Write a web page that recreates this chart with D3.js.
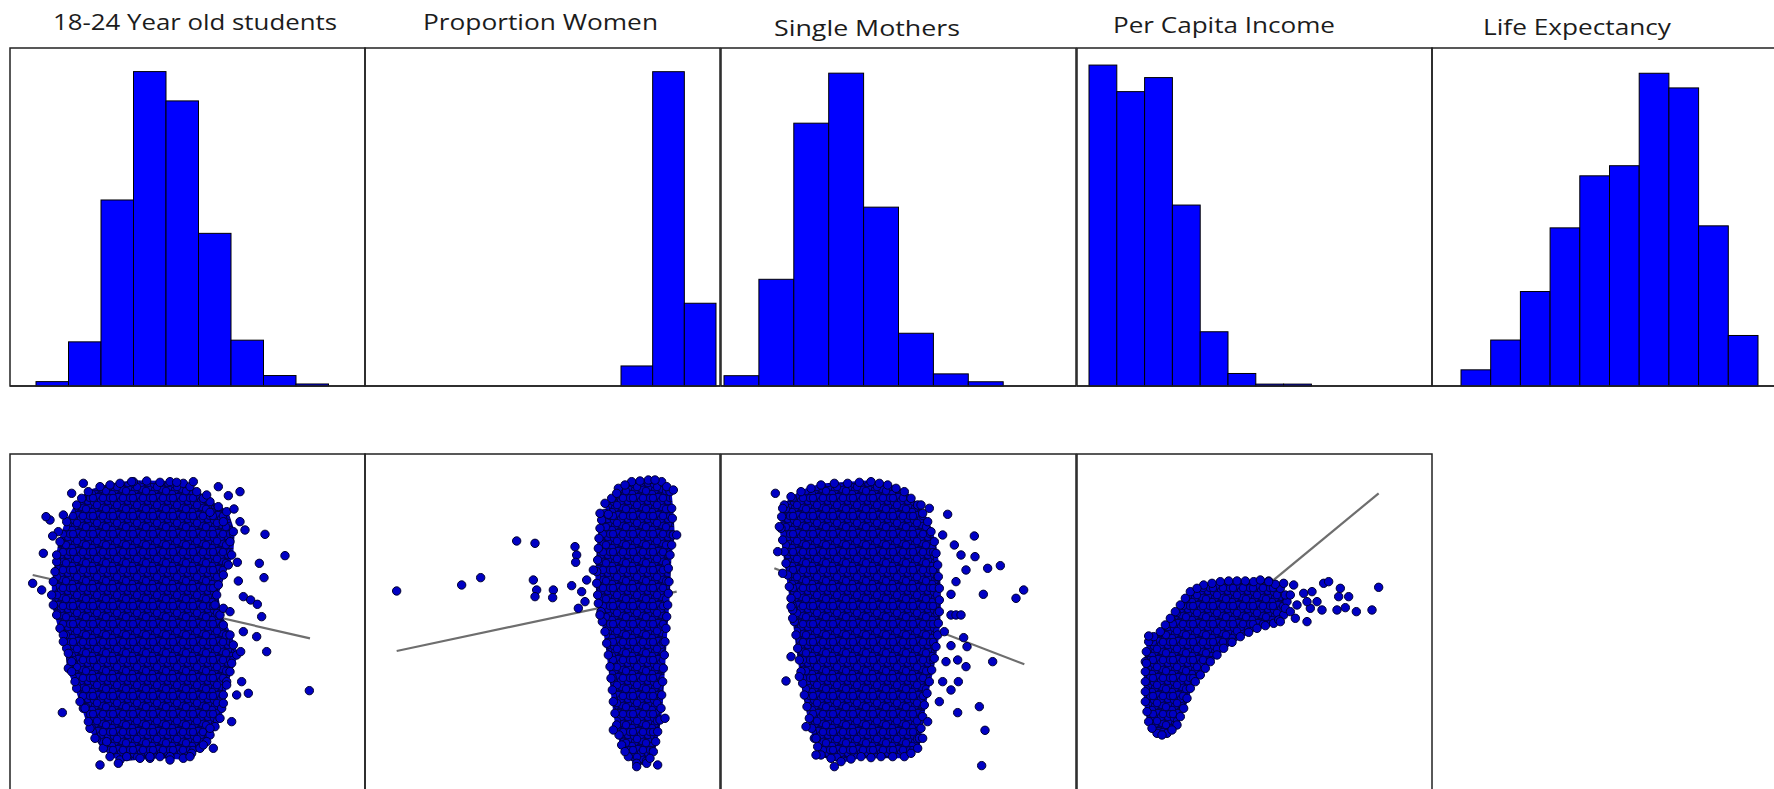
<!DOCTYPE html>
<html>
<head>
<meta charset="utf-8">
<script src="https://cdn.jsdelivr.net/npm/d3@7"></script>
<style>
  body { margin: 0; background: #fff; }
  svg { display: block; }
</style>
</head>
<body>
<svg id="chart" width="1774" height="789"></svg>
<script>
// panel titles
const titles = ["18-24 Year old students", "Proportion Women", "Single Mothers", "Per Capita Income", "Life Expectancy"];

// histogram bins (start of first bin and bin width, in each variable's units)
const binStart = [0.78, 7.68, 0.09, 0.36, 0.87];
const binWidth = [0.975, 0.95, 1.047, 0.834, 0.891];

// histogram counts per bin
const studentsCounts = [13, 131, 552, 933, 846, 453, 136, 31, 6];
const womenCounts = [149, 2336, 615];
const mothersCounts = [34, 352, 867, 1032, 590, 174, 40, 14];
const incomeCounts = [846, 776, 813, 477, 143, 33, 5, 5];
const lifeCounts = [32, 91, 187, 313, 416, 436, 619, 590, 317, 100];
const histMax = [1003, 2512, 1115, 891, 669];

// scatter plots vs life expectancy:
// outline of the dense cloud, points on its rim, single points, fitted line
const studentsCloud = [[2.35,8.90],[3.00,9.10],[3.70,9.20],[4.50,9.18],[5.20,9.15],[5.60,8.90],[6.00,8.60],[6.50,8.30],
  [6.70,7.70],[6.65,7.00],[6.40,6.40],[6.20,5.80],[6.30,5.20],[6.60,4.60],[6.80,4.00],[6.60,3.50],[6.40,2.80],
  [6.30,2.10],[6.00,1.60],[5.70,1.20],[5.20,0.90],[4.50,0.95],[3.90,0.90],[3.30,0.85],[2.80,1.20],[2.40,1.80],
  [2.20,2.40],[2.00,3.00],[1.75,3.60],[1.70,4.20],[1.50,4.80],[1.30,5.50],[1.30,6.20],[1.40,6.80],[1.50,7.40],
  [1.70,8.00],[2.00,8.50]];
const studentsEdge = [[2.70,9.05],[3.30,9.15],[4.10,9.22],[4.80,9.20],[5.40,9.05],[1.35,6.50],[1.25,5.80],[1.40,5.20],
  [1.60,4.60],[1.85,3.80],[1.95,3.20],[2.10,2.60],[2.35,2.00],[2.55,1.50],[3.00,0.95],[3.50,0.95],[6.40,8.00],
  [6.60,7.40],[6.55,6.70],[6.25,6.10],[6.15,5.50],[6.40,4.90],[6.70,4.30],[6.65,3.75],[6.50,3.20],[6.35,2.40],
  [6.15,1.85],[5.90,1.40],[5.45,1.05],[4.80,0.95],[4.20,0.90],[1.45,7.70],[1.60,8.20],[2.15,8.70],[5.80,8.70],
  [6.25,8.45]];
const studentsPoints = [[1.85,8.85],[2.20,9.15],[5.50,9.20],[6.25,9.05],[6.55,8.78],[6.90,8.90],[5.90,8.80],[6.00,8.28],
  [6.72,8.38],[6.90,8.00],[7.05,7.75],[7.65,7.62],[8.25,6.98],[7.48,6.75],[7.62,6.32],[1.20,8.05],[1.08,8.15],
  [1.28,7.57],[1.00,7.05],[0.68,6.15],[0.95,5.95],[6.82,6.78],[6.85,6.22],[7.00,5.75],[7.22,5.65],[7.42,5.52],
  [7.55,5.15],[7.40,4.55],[7.70,4.10],[6.92,4.10],[6.95,3.20],[7.15,2.85],[6.80,2.80],[6.65,2.00],[8.98,2.93],
  [1.57,2.27],[2.70,0.70],[3.25,0.75],[2.90,1.40],[6.10,1.20],[5.80,1.30],[5.00,9.18],[3.65,9.20],[1.40,7.00],
  [1.60,4.40],[1.75,4.05],[1.85,3.50],[2.25,2.40],[6.40,5.40],[6.60,5.30],[7.00,4.70],[6.50,3.10],[6.40,2.55],
  [6.00,1.80],[4.20,0.95],[4.80,0.85],[5.40,0.95]];
const studentsFit = [[0.68,6.40],[9.00,4.50]];

const womenCloud = [[7.40,8.70],[7.60,9.00],[8.00,9.20],[8.50,9.25],[8.90,9.20],[9.15,8.90],[9.20,8.40],[9.25,7.60],
  [9.15,7.00],[9.12,6.20],[9.08,5.50],[9.03,4.80],[8.98,4.00],[8.93,3.20],[8.88,2.40],[8.78,1.70],[8.65,1.10],
  [8.45,0.75],[8.15,0.75],[7.90,0.95],[7.70,1.30],[7.55,1.90],[7.45,2.60],[7.38,3.30],[7.30,4.00],[7.20,4.70],
  [7.08,5.30],[6.98,5.80],[6.95,6.50],[7.00,7.20],[7.05,7.80],[7.20,8.25]];
const womenEdge = [[7.20,8.55],[7.80,9.10],[8.25,9.22],[8.70,9.25],[9.05,9.05],[9.22,8.10],[9.20,7.30],[9.10,6.60],
  [9.10,5.85],[9.05,5.15],[9.00,4.40],[8.95,3.60],[8.90,2.80],[8.85,2.05],[8.72,1.40],[8.55,0.90],[7.80,1.10],
  [7.62,1.60],[7.50,2.25],[7.42,2.95],[7.35,3.65],[7.25,4.35],[7.12,5.00],[7.00,5.55],[6.95,6.15],[6.98,6.85],
  [7.02,7.50],[7.10,8.05]];
const womenPoints = [[0.95,5.92],[2.90,6.10],[3.47,6.32],[4.55,7.42],[5.10,7.35],[6.30,7.25],[6.35,7.00],[6.32,6.78],
  [5.05,6.25],[5.15,5.95],[5.10,5.75],[5.65,5.95],[5.63,5.72],[6.20,6.08],[6.40,5.40],[6.60,5.60],[6.65,6.25],
  [6.85,6.55],[7.05,8.25],[7.30,8.22],[7.55,8.85],[9.25,8.95],[9.35,7.60],[8.78,0.70],[8.15,0.65],[9.00,2.10],
  [7.45,1.75],[7.05,5.20],[6.50,5.90]];
const womenFit = [[0.95,4.12],[9.35,5.90]];

const mothersCloud = [[1.90,8.50],[2.40,8.90],[3.00,9.10],[3.80,9.15],[4.50,9.20],[5.00,9.10],[5.50,8.90],[5.90,8.50],
  [6.20,8.00],[6.40,7.40],[6.50,6.70],[6.55,6.00],[6.55,5.30],[6.50,4.60],[6.40,3.90],[6.25,3.20],[6.10,2.50],
  [6.00,1.80],[5.90,1.20],[5.50,0.95],[4.80,0.95],[4.20,0.95],[3.60,0.80],[3.00,1.00],[2.80,1.50],[2.65,2.10],
  [2.50,2.80],[2.40,3.50],[2.30,4.20],[2.20,5.00],[2.10,5.70],[2.00,6.40],[1.90,7.10],[1.80,7.80]];
const mothersEdge = [[2.10,8.75],[2.70,9.00],[3.40,9.15],[4.15,9.18],[4.75,9.15],[5.25,9.00],[5.70,8.70],[6.05,8.25],
  [6.30,7.70],[6.45,7.05],[6.52,6.35],[6.55,5.65],[6.52,4.95],[6.45,4.25],[6.32,3.55],[6.18,2.85],[6.05,2.15],
  [5.95,1.50],[5.70,1.05],[5.15,0.95],[4.50,0.92],[3.90,0.88],[3.30,0.90],[2.90,1.25],[2.72,1.80],[2.58,2.45],
  [2.45,3.15],[2.35,3.85],[2.25,4.60],[2.15,5.35],[2.05,6.05],[1.95,6.75],[1.85,7.45],[1.82,8.15]];
const mothersPoints = [[1.63,8.85],[1.85,8.40],[1.75,7.85],[1.70,7.10],[1.85,6.45],[2.10,5.45],[2.15,5.10],[2.10,3.95],
  [1.95,3.22],[2.35,3.35],[2.55,1.85],[2.85,1.50],[2.85,1.00],[3.40,0.65],[6.80,8.22],[6.00,8.50],[6.25,8.40],
  [6.65,7.60],[7.60,7.57],[7.00,7.30],[7.20,7.00],[7.62,6.95],[8.00,6.60],[8.38,6.68],[7.35,6.55],[7.05,6.20],
  [6.90,5.82],[7.87,5.82],[8.85,5.70],[9.08,5.95],[6.90,5.20],[7.05,5.20],[7.20,5.20],[6.70,4.70],[7.28,4.52],
  [6.90,4.28],[7.38,4.25],[6.75,3.80],[7.10,3.85],[7.35,3.65],[8.15,3.80],[6.65,3.20],[7.12,3.20],[6.90,2.95],
  [6.55,2.60],[7.10,2.27],[7.75,2.45],[7.92,1.74],[7.82,0.68],[6.20,2.00],[6.05,1.50]];
const mothersFit = [[1.60,6.60],[9.10,3.72]];

const incomeCloud = [[2.40,1.65],[2.15,2.00],[2.05,2.60],[2.05,3.20],[2.05,3.80],[2.15,4.40],[2.50,4.70],[2.80,5.10],
  [3.10,5.50],[3.40,5.90],[3.80,6.10],[4.30,6.20],[4.80,6.22],[5.30,6.20],[5.75,6.22],[6.10,6.00],[6.30,5.60],
  [6.20,5.20],[5.90,4.95],[5.40,4.80],[4.90,4.55],[4.40,4.20],[4.00,3.80],[3.70,3.40],[3.40,3.00],[3.20,2.40],
  [3.00,1.90],[2.70,1.65]];
const incomeEdge = [[2.25,1.80],[2.10,2.30],[2.05,2.90],[2.05,3.50],[2.08,4.10],[2.30,4.55],[2.65,4.90],[2.95,5.30],
  [3.25,5.70],[3.60,6.00],[4.05,6.15],[4.55,6.22],[5.05,6.22],[5.50,6.25],[5.95,6.12],[6.25,5.80],[6.25,5.40],
  [6.05,5.05],[5.65,4.88],[5.15,4.68],[4.65,4.38],[4.20,4.00],[3.85,3.60],[3.55,3.20],[3.30,2.70],[3.10,2.15],
  [2.85,1.75],[2.55,1.60]];
const incomePoints = [[2.15,4.57],[2.08,3.75],[5.75,6.20],[6.20,6.15],[6.50,6.10],[6.40,5.80],[6.80,5.85],[7.05,5.90],
  [7.40,6.15],[7.55,6.20],[7.90,6.00],[7.85,5.75],[8.15,5.75],[9.05,6.03],[6.60,5.50],[7.00,5.40],[7.35,5.35],
  [7.80,5.35],[8.05,5.42],[8.38,5.30],[8.85,5.35],[6.90,5.00],[6.55,5.10],[6.40,5.30],[6.10,5.00],[7.20,5.60],
  [6.90,5.60]];
const incomeFit = [[2.30,3.28],[9.05,8.85]];

const histCounts = [studentsCounts, womenCounts, mothersCounts, incomeCounts, lifeCounts];
const scatters = [
  { cloud: studentsCloud, edge: studentsEdge, points: studentsPoints, fit: studentsFit },
  { cloud: womenCloud, edge: womenEdge, points: womenPoints, fit: womenFit },
  { cloud: mothersCloud, edge: mothersEdge, points: mothersPoints, fit: mothersFit },
  { cloud: incomeCloud, edge: incomeEdge, points: incomePoints, fit: incomeFit }
];

// layout
const panelLeft = [10, 365, 721, 1077, 1432];
const panelW = 355;
const xUnits = 10.65;
const histTop = 48, histBottom = 386;
const scatTop = 455, scatBottom = 788.3;
const titlePos = [
  { x: 53, y: 30, len: 284 },
  { x: 423, y: 30, len: 235 },
  { x: 774, y: 35.5, len: 186 },
  { x: 1113, y: 32.5, len: 222 },
  { x: 1483, y: 34.5, len: 188 }
];
const dotR = 4.2;

const svg = d3.select("#chart");

// texture for the overplotted point clouds (irregular tile of overlapping dots)
const tileW = 20, tileH = 18;
const tileDots = [[2,3],[9,1],[15,4],[5,9],[12,8],[18,11],[1,15],[8,15],[14,16],[10,12],[17,1],[3,12],[6,5],[13,12]];
const pat = svg.append("defs").append("pattern")
  .attr("id", "dots")
  .attr("patternUnits", "userSpaceOnUse")
  .attr("width", tileW).attr("height", tileH);
pat.append("rect").attr("width", tileW).attr("height", tileH).attr("fill", "#000078");
tileDots.forEach(c => {
  [-1, 0, 1].forEach(ox => [-1, 0, 1].forEach(oy => {
    pat.append("circle")
      .attr("cx", c[0] + ox * tileW).attr("cy", c[1] + oy * tileH).attr("r", 3.8)
      .attr("fill", "#0000c4").attr("stroke", "#000038").attr("stroke-width", 0.9);
  }));
});

// titles
svg.selectAll("text.title")
  .data(titles)
  .enter()
  .append("text")
  .attr("class", "title")
  .attr("x", (d, i) => titlePos[i].x)
  .attr("y", (d, i) => titlePos[i].y)
  .attr("textLength", (d, i) => titlePos[i].len)
  .attr("lengthAdjust", "spacingAndGlyphs")
  .style("font-family", "'Open Sans', 'Noto Sans', sans-serif")
  .style("font-size", "22px")
  .style("fill", "#1c1c1c")
  .text(d => d);

// histograms
histCounts.forEach((counts, i) => {
  const left = panelLeft[i];
  const x = d3.scaleLinear().domain([0, xUnits]).range([left, left + panelW]);
  const y = d3.scaleLinear().domain([0, histMax[i]]).range([histBottom, histTop]);
  const g = svg.append("g");

  g.append("rect")
    .attr("x", left).attr("y", histTop)
    .attr("width", panelW).attr("height", histBottom - histTop)
    .attr("fill", "none").attr("stroke", "#222").attr("stroke-width", 1.5);

  g.selectAll("rect.bar")
    .data(counts)
    .enter()
    .append("rect")
    .attr("class", "bar")
    .attr("x", (d, j) => x(binStart[i] + j * binWidth[i]))
    .attr("width", x(binWidth[i]) - x(0))
    .attr("y", d => y(d))
    .attr("height", d => histBottom - y(d))
    .attr("fill", "#0000ff")
    .attr("stroke", "#000")
    .attr("stroke-width", 1);

  g.append("line")
    .attr("x1", left).attr("x2", left + panelW)
    .attr("y1", histBottom).attr("y2", histBottom)
    .attr("stroke", "#222").attr("stroke-width", 1.5);
});

// scatter plots
const yScatter = d3.scaleLinear().domain([0, 10]).range([scatBottom, scatTop]);

scatters.forEach((s, i) => {
  const left = panelLeft[i];
  const x = d3.scaleLinear().domain([0, xUnits]).range([left, left + panelW]);
  const g = svg.append("g");

  g.append("rect")
    .attr("x", left).attr("y", scatTop - 1)
    .attr("width", panelW).attr("height", 400)
    .attr("fill", "none").attr("stroke", "#222").attr("stroke-width", 1.5);

  g.append("path")
    .datum(s.fit)
    .attr("d", d3.line().x(d => x(d[0])).y(d => yScatter(d[1])))
    .attr("stroke", "#6e6e6e")
    .attr("stroke-width", 2.2)
    .attr("fill", "none");

  g.append("path")
    .datum(s.cloud)
    .attr("d", d3.line().x(d => x(d[0])).y(d => yScatter(d[1])).curve(d3.curveLinearClosed))
    .attr("fill", "url(#dots)")
    .attr("stroke", "url(#dots)")
    .attr("stroke-width", 3)
    .attr("stroke-linejoin", "round");

  g.selectAll("circle.pt")
    .data(s.cloud.concat(s.edge, s.points))
    .enter()
    .append("circle")
    .attr("class", "pt")
    .attr("cx", d => x(d[0]))
    .attr("cy", d => yScatter(d[1]))
    .attr("r", dotR)
    .attr("fill", "#0000c4")
    .attr("stroke", "#000030")
    .attr("stroke-width", 1);
});
</script>
</body>
</html>
